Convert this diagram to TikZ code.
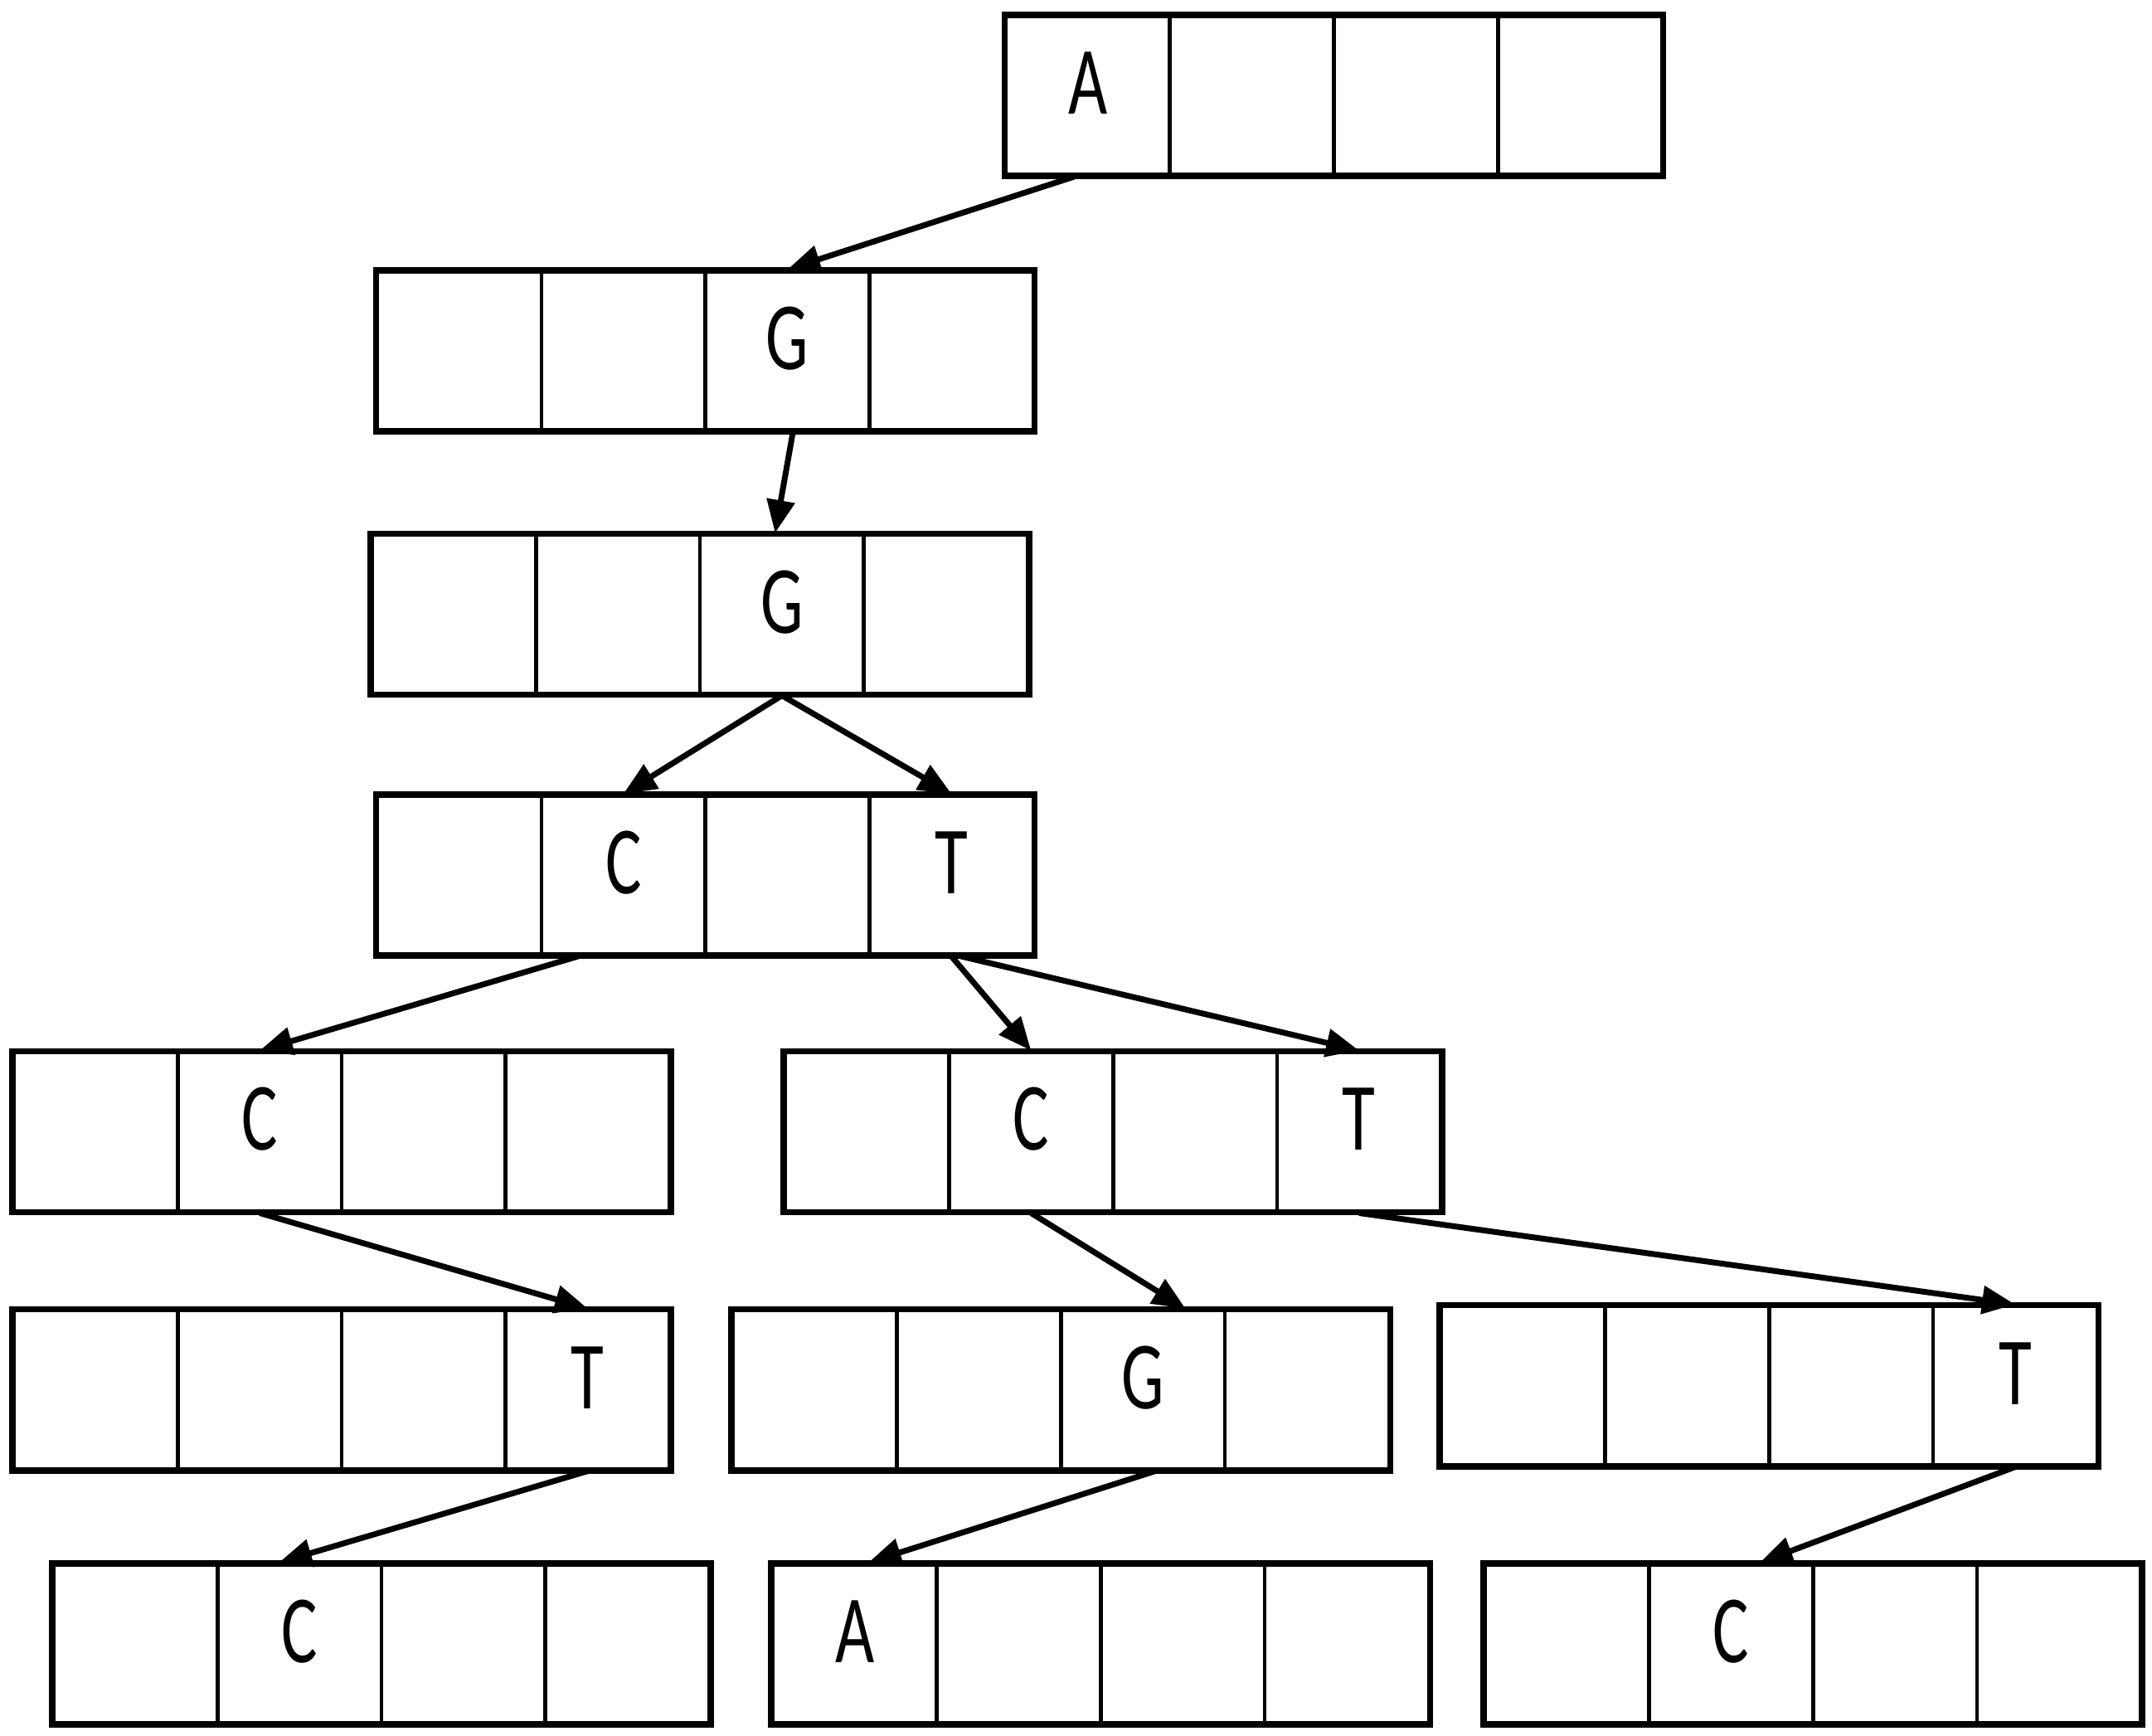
\documentclass[tikz,border=0pt]{standalone}
\usepackage{fontspec}
\setmainfont{Carlito}
\usepackage{graphicx}
\usetikzlibrary{arrows.meta}

\begin{document}
\begin{tikzpicture}[x=0.01cm, y=-0.01cm,
  cell/.style={draw, line width=0.8pt, minimum width=1.195cm, minimum height=1.155cm, inner sep=0pt},
  frame/.style={line width=1pt},
  letter/.style={inner sep=0pt, yshift=0.09cm, font=\fontsize{20}{20}\selectfont},
  link/.style={-{Triangle[length=0.24cm,width=0.2cm]}, line width=1.2pt}]
\useasboundingbox (0,0) rectangle (1568,1264.6);
% rows of four cells
\foreach \name/\x/\y in {a/733/12, b/275/198, c/271/390, d/275/580, e/10/767, f/572/767, g/10/955, h/534/955, k/1050/952, l/39/1140, m/563/1140, n/1082/1140}
{
  \foreach \i in {1,...,4}
    \node[cell] (\name-\i) at ({\x+119.5*\i-59.75},{\y+57.5}) {};
  \draw[frame] (\name-1.north west) rectangle (\name-4.south east);
}
\node[letter] (la) at (a-1) {\scalebox{0.7}[1]{A}};
\node[letter] (lb) at (b-3) {\scalebox{0.7}[1]{G}};
\node[letter] (lc) at (c-3) {\scalebox{0.7}[1]{G}};
\node[letter] (ld) at (d-2) {\scalebox{0.7}[1]{C}};
\node[letter] (ldt) at (d-4) {\scalebox{0.7}[1]{T}};
\node[letter] (le) at (e-2) {\scalebox{0.7}[1]{C}};
\node[letter] (lf) at (f-2) {\scalebox{0.7}[1]{C}};
\node[letter] (lft) at (f-4) {\scalebox{0.7}[1]{T}};
\node[letter] (lg) at (g-4) {\scalebox{0.7}[1]{T}};
\node[letter] (lh) at (h-3) {\scalebox{0.7}[1]{G}};
\node[letter] (lk) at (k-4) {\scalebox{0.7}[1]{T}};
\node[letter] (ll) at (l-2) {\scalebox{0.7}[1]{C}};
\node[letter] (lm) at (m-1) {\scalebox{0.7}[1]{A}};
\node[letter] (ln) at (n-2) {\scalebox{0.7}[1]{C}};
% links
\draw[link] ([xshift=-0.1cm]a-1.south) -- (b-3.north);
\draw[link] ([xshift=0.04cm]b-3.south) -- ([xshift=-0.05cm]c-3.north);
\draw[link] (c-3.south) -- (d-2.north);
\draw[link] (c-3.south) -- (d-4.north);
\draw[link] ([xshift=-0.33cm]d-2.south) -- (e-2.north);
\draw[link] (d-4.south) -- (f-2.north);
\draw[link] ([xshift=0.07cm]d-4.south) -- (f-4.north);
\draw[link] (e-2.south) -- (g-4.north);
\draw[link] (f-2.south) -- ([xshift=0.31cm]h-3.north);
\draw[link] (f-4.south) -- (k-4.north);
\draw[link] (g-4.south) -- ([xshift=-0.15cm]l-2.north);
\draw[link] ([xshift=0.09cm]h-3.south) -- ([xshift=0.1cm]m-1.north);
\draw[link] (k-4.south) -- ([xshift=0.21cm]n-2.north);
\end{tikzpicture}
\end{document}
